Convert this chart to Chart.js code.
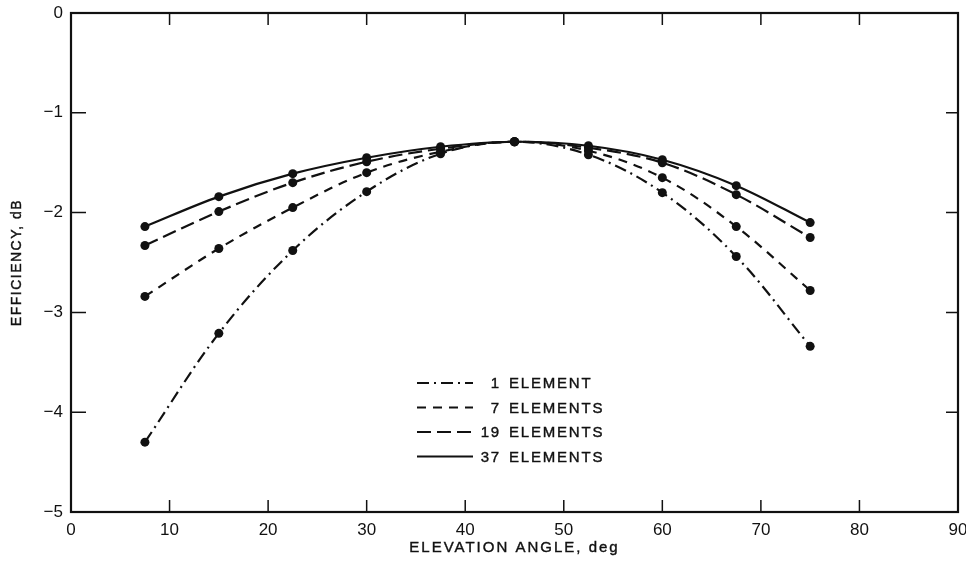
<!DOCTYPE html>
<html>
<head>
<meta charset="utf-8">
<script src="https://cdn.jsdelivr.net/npm/chart.js@4/dist/chart.umd.min.js"></script>
<style>
  html, body { margin: 0; padding: 0; background: #fff; }
  #wrap { width: 966px; height: 571px; }
</style>
</head>
<body>
<div id="wrap"><canvas id="c" width="966" height="571"></canvas></div>
<script>
// Array efficiency vs elevation angle.
const ANGLES = [7.5, 15, 22.5, 30, 37.5, 45, 52.5, 60, 67.5, 75];
const EL_1  = [-4.30, -3.21, -2.38, -1.79, -1.41, -1.29, -1.42, -1.80, -2.44, -3.34];
const EL_7  = [-2.84, -2.36, -1.95, -1.60, -1.39, -1.29, -1.38, -1.65, -2.14, -2.78];
const EL_19 = [-2.33, -1.99, -1.70, -1.49, -1.36, -1.29, -1.35, -1.50, -1.82, -2.25];
const EL_37 = [-2.14, -1.84, -1.61, -1.45, -1.34, -1.29, -1.33, -1.47, -1.73, -2.10];
const SERIES_LABELS = ["1 ELEMENT", "7 ELEMENTS", "19 ELEMENTS", "37 ELEMENTS"];
const X_TICKS = [0, 10, 20, 30, 40, 50, 60, 70, 80, 90];
const Y_TICKS = [0, -1, -2, -3, -4, -5];

const INK = "#111";
const FONT = "'Liberation Sans', Arial, sans-serif";
// dash-dot, short dash, long dash, solid — same order as the legend
const DASHES = [[12, 5, 2, 5], [9, 7], [14, 6], []];

function series(vals, i) {
  return {
    label: SERIES_LABELS[i],
    data: ANGLES.map((a, k) => ({ x: a, y: vals[k] })),
    borderColor: INK, backgroundColor: INK,
    borderWidth: 2.2, borderDash: DASHES[i],
    pointRadius: 4.5, pointBorderWidth: 0, pointBackgroundColor: INK,
    tension: 0.35,
  };
}

// scanned type looks heavier than a plain fill, so outline it lightly
function inkText(ctx, s, x, y) {
  ctx.fillText(s, x, y);
  ctx.strokeText(s, x, y);
}

// Inward tick marks on all four sides, the box frame, axis titles and the in-plot legend.
const decor = {
  id: "decor",
  afterDraw(chart) {
    const ctx = chart.ctx, a = chart.chartArea;
    const xs = chart.scales.x, ys = chart.scales.y;
    ctx.save();
    ctx.strokeStyle = INK; ctx.fillStyle = INK;
    ctx.lineWidth = 2.2;
    ctx.strokeRect(a.left, a.top, a.right - a.left, a.bottom - a.top);

    ctx.lineWidth = 1.5;
    ctx.beginPath();
    X_TICKS.forEach((v) => {
      const p = xs.getPixelForValue(v);
      ctx.moveTo(p, a.bottom); ctx.lineTo(p, a.bottom - 12);
      ctx.moveTo(p, a.top); ctx.lineTo(p, a.top + 12);
    });
    Y_TICKS.forEach((v) => {
      const p = ys.getPixelForValue(v);
      ctx.moveTo(a.left, p); ctx.lineTo(a.left + 15, p);
      ctx.moveTo(a.right, p); ctx.lineTo(a.right - 12, p);
    });
    ctx.stroke();

    // axis titles (letter-spaced like the typeset original)
    ctx.lineWidth = 0.4;
    ctx.font = "15px " + FONT;
    ctx.letterSpacing = "2px";
    ctx.textAlign = "center"; ctx.textBaseline = "middle";
    inkText(ctx, "ELEVATION ANGLE, deg", (a.left + a.right) / 2, 548);
    ctx.font = "14px " + FONT;
    ctx.letterSpacing = "1.5px";
    ctx.translate(17, (a.top + a.bottom) / 2);
    ctx.rotate(-Math.PI / 2);
    inkText(ctx, "EFFICIENCY, dB", 0, 0);
    ctx.setTransform(1, 0, 0, 1, 0, 0);

    // legend
    ctx.font = "15px " + FONT;
    ctx.letterSpacing = "1.8px";
    chart.data.datasets.forEach((ds, i) => {
      const y = 383 + i * 24.5;
      ctx.lineWidth = 2;
      ctx.setLineDash(ds.borderDash);
      ctx.beginPath(); ctx.moveTo(417, y); ctx.lineTo(473, y); ctx.stroke();
      ctx.setLineDash([]);
      ctx.lineWidth = 0.4;
      const sp = ds.label.indexOf(" ");
      ctx.textAlign = "right";
      inkText(ctx, ds.label.slice(0, sp), 501, y + 1);
      ctx.textAlign = "left";
      inkText(ctx, ds.label.slice(sp + 1), 509, y + 1);
    });
    ctx.restore();
  },
};

new Chart(document.getElementById("c"), {
  type: "line",
  data: { datasets: [series(EL_1, 0), series(EL_7, 1), series(EL_19, 2), series(EL_37, 3)] },
  options: {
    responsive: false, animation: false,
    layout: { padding: { top: 13, right: 8, left: 0, bottom: 0 } },
    plugins: { legend: { display: false }, tooltip: { enabled: false } },
    scales: {
      x: {
        type: "linear", min: 0, max: 90,
        afterBuildTicks: (s) => { s.ticks = X_TICKS.map((v) => ({ value: v })); },
        afterFit: (s) => { s.height = 59; s.paddingLeft = 0; s.paddingRight = 0; },
        grid: { display: false, drawTicks: false }, border: { display: false },
        ticks: { color: INK, font: { family: FONT, size: 17 }, padding: 8, maxRotation: 0 },
      },
      y: {
        min: -5, max: 0,
        afterBuildTicks: (s) => { s.ticks = Y_TICKS.map((v) => ({ value: v })); },
        afterFit: (s) => { s.width = 71; s.paddingTop = 0; s.paddingBottom = 0; },
        grid: { display: false, drawTicks: false }, border: { display: false },
        ticks: {
          color: INK, font: { family: FONT, size: 17 }, padding: 8,
          callback: (v) => (v === 0 ? "0" : "\u2212" + Math.abs(v)),
        },
      },
    },
  },
  plugins: [decor],
});
</script>
</body>
</html>
